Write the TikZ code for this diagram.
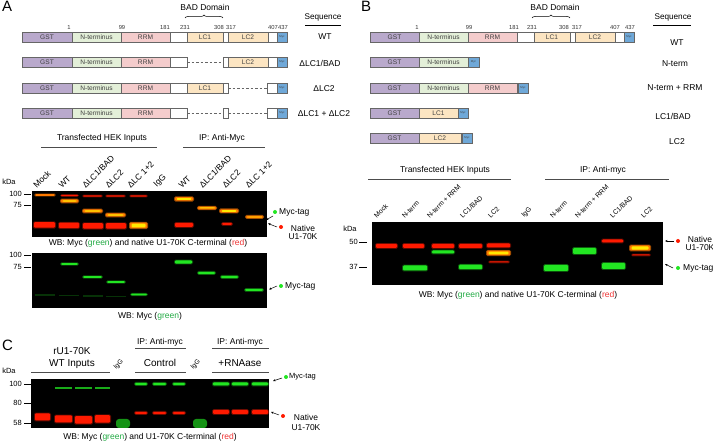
\documentclass[tikz,border=0pt]{standalone}
\usepackage{fontspec}
\setmainfont{Liberation Sans}
\usetikzlibrary{decorations.pathreplacing,arrows.meta}
\definecolor{cgst}{HTML}{B9A9CC}
\definecolor{cnt}{HTML}{E3EFD8}
\definecolor{crrm}{HTML}{F4CCCC}
\definecolor{clc}{HTML}{FCE5C2}
\definecolor{cmyc}{HTML}{6FA8D8}
\definecolor{gred}{HTML}{FF1A00}
\definecolor{ggreen}{HTML}{22E622}
\definecolor{gyel}{HTML}{FFE800}
\definecolor{gorange}{HTML}{FF7A00}
\definecolor{txtgreen}{HTML}{22AA44}
\definecolor{txtred}{HTML}{EE3333}
\newcommand{\dom}[6]{\node[dombox,fill=#5,minimum width={#3pt-#2pt},anchor=west] (#1) at (#2,#4) {#6};}
\newcommand{\mycb}[4]{\node[dombox,fill=cmyc,minimum width={#3pt-#2pt},anchor=west,font=\fontsize{2.8}{3}\selectfont] (#1) at (#2,#4) {Myc};}
\newcommand{\band}[5]{%
  \fill[#5,opacity=0.35,rounded corners=1.5pt] (#1-1,#3-#4/2-0.8) rectangle (#2+1,#3+#4/2+0.8);
  \fill[#5,rounded corners=1pt] (#1,#3-#4/2) rectangle (#2,#3+#4/2);}
\newcommand{\yband}[4]{%
  \fill[gorange,opacity=0.6,rounded corners=1.5pt] (#1-1,#3-#4/2-0.8) rectangle (#2+1,#3+#4/2+0.8);
  \fill[gorange,rounded corners=1pt] (#1,#3-#4/2) rectangle (#2,#3+#4/2);
  \fill[gyel,rounded corners=1pt] (#1+1.5,#3-#4/2+0.8) rectangle (#2-1.5,#3+#4/2-0.8);}
\tikzset{
  dombox/.style={draw=black!60,line width=0.4pt,minimum height=10pt,inner sep=0pt,outer sep=0pt,
    font=\fontsize{6.6}{7}\selectfont,text=black!75},
  numlab/.style={font=\fontsize{5.8}{6}\selectfont,inner sep=0pt,text=black!80},
  lab/.style={font=\fontsize{8.5}{9}\selectfont,inner sep=0pt},
  seqlab/.style={font=\fontsize{8.5}{9}\selectfont,inner sep=0pt},
  biglab/.style={font=\fontsize{10}{12}\selectfont,inner sep=0pt,align=center},
  panel/.style={font=\fontsize{15}{15}\selectfont,inner sep=0pt},
  lanelab/.style={font=\fontsize{8.5}{9}\selectfont,inner sep=0pt,rotate=45,anchor=south west},
  lanelabb/.style={font=\fontsize{6.8}{7}\selectfont,inner sep=0pt,rotate=45,anchor=south west},
  mrk/.style={font=\fontsize{7.5}{8}\selectfont,inner sep=0pt,anchor=east},
  tk/.style={line width=0.9pt},
  hline/.style={line width=0.6pt,black!70},
  gel/.style={fill=black},
  dashln/.style={line width=0.4pt,black!60,dash pattern=on 2.5pt off 2pt},
  ptr/.style={-{Stealth[length=2.6pt,width=2.2pt]},line width=0.5pt},
  gdot/.style={circle,fill=ggreen,inner sep=0pt,minimum size=4pt},
  rdot/.style={circle,fill=gred,inner sep=0pt,minimum size=4pt},
}
\begin{document}
\begin{tikzpicture}[x=1pt,y=-1pt]
\path[use as bounding box,fill=white] (0,0) rectangle (713,443);

%================ PANEL A diagrams
\node[panel,anchor=north west] (pA) at (2,1) {A};
\node[lab] (badA) at (205,7) {BAD Domain};
\draw[decorate,decoration={brace,amplitude=3pt},line width=0.5pt] (185,18) -- (223,18);
\node[seqlab,font=\fontsize{8.2}{9}\selectfont] (seqA) at (323,17) {Sequence};
\draw[line width=0.6pt] (305,25) -- (341,25);
\foreach \t/\x in {1/69,99/122,181/165,231/185,308/219,317/231,407/273,437/283}
  \node[numlab] (nA\t) at (\x,28) {\t};
% WT
\dom{a1g}{22}{72}{37}{cgst}{GST}
\dom{a1n}{72}{121}{37}{cnt}{N-terminus}
\dom{a1r}{121}{170}{37}{crrm}{RRM}
\dom{a1w}{170}{187}{37}{white}{}
\dom{a1c}{187}{223}{37}{clc}{LC1}
\dom{a1s}{223}{228}{37}{white}{}
\dom{a1d}{228}{268}{37}{clc}{LC2}
\dom{a1e}{268}{277}{37}{white}{}
\mycb{a1m}{277}{287}{37}
\node[seqlab] (sA1) at (325,37) {WT};
% dLC1/BAD
\dom{a2g}{22}{72}{62}{cgst}{GST}
\dom{a2n}{72}{121}{62}{cnt}{N-terminus}
\dom{a2r}{121}{170}{62}{crrm}{RRM}
\dom{a2w}{170}{187}{62}{white}{}
\dom{a2s}{223}{228}{62}{white}{}
\dom{a2d}{228}{268}{62}{clc}{LC2}
\dom{a2e}{268}{277}{62}{white}{}
\mycb{a2m}{277}{287}{62}
\draw[dashln] (a2w.east) -- (a2s.west);
\node[seqlab] (sA2) at (320,63) {ΔLC1/BAD};
% dLC2
\dom{a3g}{22}{72}{88}{cgst}{GST}
\dom{a3n}{72}{121}{88}{cnt}{N-terminus}
\dom{a3r}{121}{170}{88}{crrm}{RRM}
\dom{a3w}{170}{187}{88}{white}{}
\dom{a3c}{187}{223}{88}{clc}{LC1}
\dom{a3s}{223}{228}{88}{white}{}
\dom{a3e}{267}{277}{88}{white}{}
\mycb{a3m}{277}{287}{88}
\draw[dashln] (a3s.east) -- (a3e.west);
\node[seqlab] (sA3) at (324,89) {ΔLC2};
% dLC1+dLC2
\dom{a4g}{22}{72}{113}{cgst}{GST}
\dom{a4n}{72}{121}{113}{cnt}{N-terminus}
\dom{a4r}{121}{170}{113}{crrm}{RRM}
\dom{a4w}{170}{187}{113}{white}{}
\dom{a4s}{223}{228}{113}{white}{}
\dom{a4e}{267}{277}{113}{white}{}
\mycb{a4m}{277}{287}{113}
\draw[dashln] (a4w.east) -- (a4s.west);
\draw[dashln] (a4s.east) -- (a4e.west);
\node[seqlab] (sA4) at (324,114) {ΔLC1 + ΔLC2};

%================ PANEL A gels
\node[lab] (hA1) at (102,138) {Transfected HEK Inputs};
\draw[hline] (41,147) -- (157,147);
\node[lab] (hA2) at (222,138) {IP: Anti-Myc};
\draw[hline] (183,147) -- (265,147);
\foreach \n/\x/\t in {1/37/Mock,2/62/WT,3/86/{ΔLC1/BAD},4/109/ΔLC2,5/131/ΔLC 1+2,6/158/IgG,7/182/WT,8/203/{ΔLC1/BAD},9/226/ΔLC2,10/249/ΔLC 1+2}
  \node[lanelab] (lA\n) at (\x,189) {\t};
\node[mrk,anchor=center] (kA) at (9,182) {kDa};
% gel A1
\fill[gel] (32,191) rectangle (267,237);
\node[mrk] (mA1) at (22,194) {100};
\draw[tk] (24,194) -- (31,194);
\node[mrk] (mA2) at (22,205) {75};
\draw[tk] (24,205) -- (31,205);
\band{35}{55}{195}{1.6}{gorange}
\band{61}{78}{195.5}{1.2}{gred}
\band{83}{102}{196}{1.2}{gred}
\band{106}{125}{196}{1.2}{gred}
\band{130}{147}{196}{1.2}{gred}
\yband{61}{78}{201}{3}
\yband{83}{102}{211}{3}
\yband{106}{125}{215}{3}
\yband{175}{193}{199}{3.5}
\yband{198}{216}{208}{2.6}
\yband{220}{238}{211}{3.4}
\yband{246}{263}{217}{2.4}
\band{34}{55}{225}{5.5}{gred}
\band{59}{79}{225.5}{5.5}{gred}
\band{83}{103}{226}{5.5}{gred}
\band{106}{126}{226}{5.5}{gred}
\yband{130}{147}{225.5}{5.5}
\band{175}{193}{225}{4}{gred}
\band{222}{232}{224}{2}{gred}
\node[gdot] (gA1) at (275,212) {};
\node[lab,anchor=west] (tA1) at (279,212) {Myc-tag};
\coordinate (pA1) at (266,220);
\draw[ptr] (273,216) -- (pA1);
\node[rdot] (rA1) at (281,227) {};
\node[lab,align=center] (tA2) at (303,232) {Native\\[-1pt]U1-70K};
\coordinate (pA2) at (268,223.5);
\draw[ptr] (277,227) -- (pA2);
\node[lab] (cA1) at (148,243) {WB: Myc (\textcolor{txtgreen}{green}) and native U1-70K C-terminal (\textcolor{txtred}{red})};
% gel A2
\fill[gel] (32,253) rectangle (267,308);
\node[mrk] (mA3) at (22,255) {100};
\draw[tk] (24,255) -- (31,255);
\node[mrk] (mA4) at (22,267) {75};
\draw[tk] (24,267) -- (31,267);
\foreach \a/\b/\y in {35/55/295,59/79/295.5,83/103/296,106/126/296.5}
  {\fill[ggreen,opacity=0.22] (\a,\y-0.8) rectangle (\b,\y+0.8);}
\band{61}{78}{264}{1.8}{ggreen}
\band{83}{102}{277}{1.8}{ggreen}
\band{107}{125}{282}{1.8}{ggreen}
\band{131}{147}{294.5}{1.8}{ggreen}
\band{175}{192}{262}{3.2}{ggreen}
\band{198}{215}{273}{2.4}{ggreen}
\band{221}{238}{277}{2.4}{ggreen}
\band{245}{263}{290}{2}{ggreen}
\node[gdot] (gA2) at (281,286) {};
\node[lab,anchor=west] (tA3) at (285,286) {Myc-tag};
\coordinate (pA3) at (269,289.5);
\draw[ptr] (277,286) -- (pA3);
\node[lab] (cA2) at (150,316) {WB: Myc (\textcolor{txtgreen}{green})};

%================ PANEL B diagrams
\node[panel,anchor=north west] (pB) at (361,1) {B};
\node[lab] (badB) at (555,7) {BAD Domain};
\draw[decorate,decoration={brace,amplitude=3pt},line width=0.5pt] (532,18) -- (570,18);
\node[seqlab,font=\fontsize{8.2}{9}\selectfont] (seqB) at (673,17) {Sequence};
\draw[line width=0.6pt] (653,25) -- (691,25);
\foreach \t/\x in {1/417,99/469,181/514,231/532,308/564,317/577,407/615,437/630}
  \node[numlab] (nB\t) at (\x,28) {\t};
\dom{b1g}{370}{419}{37}{cgst}{GST}
\dom{b1n}{419}{468}{37}{cnt}{N-terminus}
\dom{b1r}{468}{517}{37}{crrm}{RRM}
\dom{b1w}{517}{534}{37}{white}{}
\dom{b1c}{534}{570}{37}{clc}{LC1}
\dom{b1s}{570}{575}{37}{white}{}
\dom{b1d}{575}{615}{37}{clc}{LC2}
\dom{b1e}{615}{624}{37}{white}{}
\mycb{b1m}{624}{634}{37}
\node[seqlab] (sB1) at (677,43) {WT};
\dom{b2g}{370}{419}{62}{cgst}{GST}
\dom{b2n}{419}{468}{62}{cnt}{N-terminus}
\mycb{b2m}{468}{479}{62}
\node[seqlab] (sB2) at (675,64) {N-term};
\dom{b3g}{370}{419}{88}{cgst}{GST}
\dom{b3n}{419}{468}{88}{cnt}{N-terminus}
\dom{b3r}{468}{517}{88}{crrm}{RRM}
\mycb{b3m}{518}{528}{88}
\node[seqlab] (sB3) at (675,88) {N-term + RRM};
\dom{b4g}{370}{419}{113}{cgst}{GST}
\dom{b4c}{419}{458}{113}{clc}{LC1}
\mycb{b4m}{458}{468}{113}
\node[seqlab] (sB4) at (673,116) {LC1/BAD};
\dom{b5g}{370}{419}{138}{cgst}{GST}
\dom{b5d}{419}{461}{138}{clc}{LC2}
\mycb{b5m}{462}{472}{138}
\node[seqlab] (sB5) at (677,142) {LC2};

%================ PANEL B gel
\node[lab] (hB1) at (445,170) {Transfected HEK Inputs};
\draw[hline] (368,179) -- (511,179);
\node[lab] (hB2) at (603,170) {IP: Anti-myc};
\draw[hline] (545,179) -- (669,179);
\foreach \n/\x/\t in {1/377/Mock,2/405/N-term,3/430/N-term + RRM,4/463/{LC1/BAD},5/491/LC2,6/525/IgG,7/553/N-term,8/578/N-term + RRM,9/613/{LC1/BAD},10/644/LC2}
  \node[lanelabb] (lB\n) at (\x,219) {\t};
\node[mrk,anchor=center] (kB) at (350,229) {kDa};
\fill[gel] (372,222) rectangle (663,285);
\node[mrk] (mB1) at (358,242) {50};
\draw[tk] (359,242) -- (367,242);
\node[mrk] (mB2) at (358,267) {37};
\draw[tk] (359,267) -- (367,267);
\band{376}{397}{246}{4}{gred}
\band{403}{424}{246}{4}{gred}
\band{432}{454}{246}{4}{gred}
\band{459}{482}{246}{4}{gred}
\band{487}{510}{245.5}{4}{gred}
\band{403}{427}{268}{5}{ggreen}
\band{432}{454}{252}{3}{ggreen}
\band{459}{482}{267}{4.5}{ggreen}
\yband{487}{510}{253}{4.5}
\band{489}{509}{262}{1}{gred}
\band{544}{568}{268}{6}{ggreen}
\band{573}{596}{251}{6}{ggreen}
\band{602}{623}{241}{3}{gred}
\band{602}{625}{266}{6}{ggreen}
\yband{630}{650}{248}{5}
\band{632}{650}{255}{1}{gred}
\node[rdot] (rB1) at (678,241) {};
\node[lab,align=center] (tB1) at (700,243) {Native\\[-1pt]U1-70K};
\coordinate (pB1) at (665,241);
\draw[ptr] (674,241) -- (pB1);
\node[gdot] (gB1) at (678,268) {};
\node[lab,anchor=west] (tB2) at (683,268) {Myc-tag};
\coordinate (pB2) at (665,264);
\draw[ptr] (673,268) -- (pB2);
\node[lab] (cB1) at (518,295) {WB: Myc (\textcolor{txtgreen}{green}) and native U1-70K C-terminal (\textcolor{txtred}{red})};

%================ PANEL C
\node[panel,anchor=west] (pC) at (2,345) {C};
\node[biglab] (hC1) at (72,358) {rU1-70K\\WT Inputs};
\draw[hline] (31,372) -- (110,372);
\node[lanelabb,font=\fontsize{6.5}{7}\selectfont] (lC1) at (117,371) {IgG};
\node[lab] (hC2) at (160,342) {IP: Anti-myc};
\draw[hline] (135,348) -- (186,348);
\node[biglab] (hC3) at (160,363) {Control};
\draw[hline] (135,372) -- (186,372);
\node[lanelabb,font=\fontsize{6.5}{7}\selectfont] (lC2) at (194,371) {IgG};
\node[lab] (hC4) at (240,342) {IP: Anti-myc};
\draw[hline] (212,348) -- (269,348);
\node[biglab] (hC5) at (240,363) {+RNAase};
\draw[hline] (212,372) -- (269,372);
\node[mrk,anchor=center] (kC) at (9,371) {kDa};
\fill[gel] (31,379) rectangle (269,428);
\node[mrk] (mC1) at (22,384) {100};
\draw[tk] (24,384) -- (31,384);
\node[mrk] (mC2) at (22,403) {80};
\draw[tk] (24,403) -- (31,403);
\node[mrk] (mC3) at (22,423) {58};
\draw[tk] (24,423) -- (31,423);
\band{35}{50}{417}{7}{gred}
\band{55}{72}{419}{7}{gred}
\band{75}{92}{420}{7.5}{gred}
\band{95}{110}{419}{7.5}{gred}
\foreach \a/\b in {55/72,75/92,95/110}
  {\fill[ggreen,opacity=0.75] (\a,387.3) rectangle (\b,388.7);}
\fill[ggreen!80!black,opacity=0.8,rounded corners=3pt] (116,419) rectangle (130,428);
\fill[ggreen!80!black,opacity=0.8,rounded corners=3pt] (193,419) rectangle (207,428);
\foreach \a/\b in {135/147,153/166,173/185}
  {\band{\a}{\b}{384}{2.4}{ggreen}
   \band{\a}{\b}{413}{2.4}{gred}}
\foreach \a/\b in {213/229,232/248,252/268}
  {\band{\a}{\b}{384}{3}{ggreen}
   \band{\a}{\b}{412}{4}{gred}}
\node[gdot] (gC1) at (286,377) {};
\node[lab,anchor=west,font=\fontsize{7.5}{8}\selectfont] (tC1) at (289,377) {Myc-tag};
\coordinate (pC1) at (273,381);
\draw[ptr] (282,378) -- (pC1);
\node[rdot] (rC1) at (283,416) {};
\node[lab,align=center,font=\fontsize{8.5}{10}\selectfont] (tC2) at (306,422) {Native\\U1-70K};
\coordinate (pC2) at (271,412);
\draw[ptr] (279,415) -- (pC2);
\node[lab] (cC1) at (150,437) {WB: Myc (\textcolor{txtgreen}{green}) and U1-70K C-terminal (\textcolor{txtred}{red})};
\end{tikzpicture}
\end{document}
